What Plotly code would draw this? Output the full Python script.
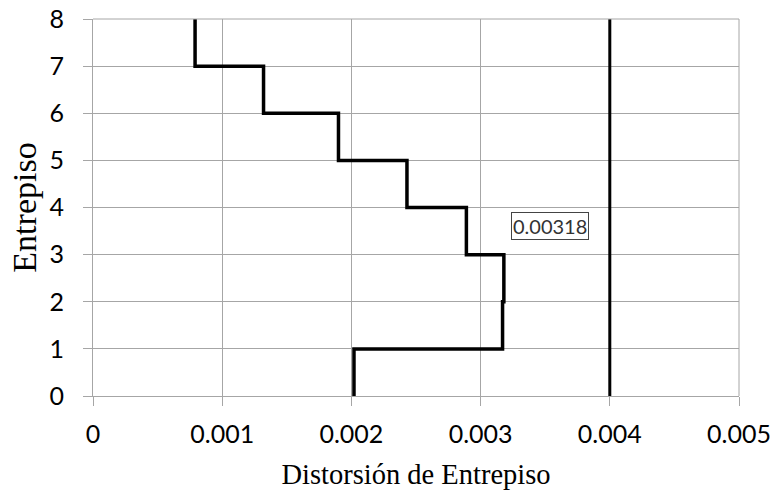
import plotly.graph_objects as go

stories = [0, 1, 2, 3, 4, 5, 6, 7, 8]
drifts = [0.00202, 0.00317, 0.00318, 0.00289, 0.00243, 0.00190, 0.00132, 0.00079]
limit = 0.004
label_text = "0.00318"
x_ticks = [0, 0.001, 0.002, 0.003, 0.004, 0.005]
x_tick_labels = ["0", "0.001", "0.002", "0.003", "0.004", "0.005"]

fig = go.Figure()
fig.add_trace(go.Scatter(
    x=drifts + [drifts[-1]], y=stories, mode="lines", line_shape="vh",
    line=dict(color="black", width=3.5), showlegend=False, hoverinfo="skip"))
fig.add_trace(go.Scatter(
    x=[limit, limit], y=[stories[0], stories[-1]], mode="lines",
    line=dict(color="black", width=3), showlegend=False, hoverinfo="skip"))

fig.add_annotation(x=0.003538, y=3.6, text=label_text, showarrow=False,
                   font=dict(family="Lato", size=20, color="#333"),
                   bordercolor="#444", borderwidth=1, borderpad=1, bgcolor="white")

grid = "#a6a6a6"
fig.update_layout(
    width=774, height=491, paper_bgcolor="white", plot_bgcolor="white",
    margin=dict(l=93, r=35, t=19, b=95),
    xaxis=dict(range=[0, 0.005], tickvals=x_ticks, ticktext=x_tick_labels,
               automargin=False,
               showgrid=True, gridcolor=grid, gridwidth=1,
               showline=True, linecolor=grid, zeroline=False,
               ticks="outside", ticklen=9, tickcolor=grid, ticklabelstandoff=7,
               tickfont=dict(family="Lato", size=25, color="black"),
               title=dict(text="Distorsión de Entrepiso", standoff=17,
                          font=dict(family="Liberation Serif", size=28.5, color="black"))),
    yaxis=dict(range=[0, 8], dtick=1, automargin=False,
               showgrid=True, gridcolor=grid, gridwidth=1,
               showline=True, linecolor=grid, zeroline=False,
               ticks="outside", ticklen=9, tickcolor=grid, ticklabelstandoff=14,
               tickfont=dict(family="Lato", size=25, color="black"),
               title=dict(text="Entrepiso", standoff=2,
                          font=dict(family="Liberation Serif", size=34, color="black"))),
)
fig.add_shape(type="line", xref="paper", yref="paper", x0=1, x1=1, y0=0, y1=1,
              line=dict(color=grid, width=1))
fig.add_shape(type="line", xref="paper", yref="paper", x0=0, x1=1, y0=1, y1=1,
              line=dict(color=grid, width=1))
fig.write_html("out.html", config={"displayModeBar": False},
               post_script="document.body.style.margin='0px';")
